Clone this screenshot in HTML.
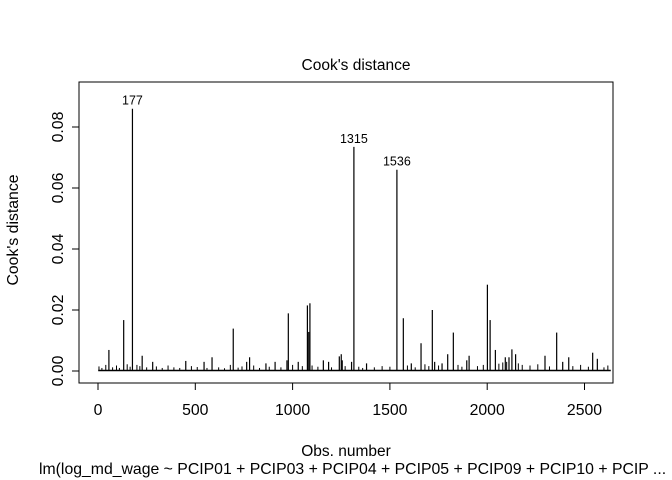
<!DOCTYPE html>
<html><head><meta charset="utf-8"><style>
body{margin:0;background:#fff;}
svg{display:block;font-family:"Liberation Sans",sans-serif;}
</style></head><body>
<svg id="chart" width="672" height="480">
<text x="356" y="70" font-size="15.5" text-anchor="middle">Cook's distance</text>
<text x="346" y="456" font-size="15.5" text-anchor="middle">Obs. number</text>
<text x="39" y="474" font-size="15.8">lm(log_md_wage ~ PCIP01 + PCIP03 + PCIP04 + PCIP05 + PCIP09 + PCIP10 + PCIP ...</text>
<text transform="translate(18,230) rotate(-90)" font-size="15.8" text-anchor="middle">Cook's distance</text>
<rect x="79" y="82" width="534" height="301" fill="none" stroke="#000"/>
<g id="marks"></g><g id="axes"></g>
</svg>
<script>
const obsIds=[177,1315,1536,2001,1089,1076,1718,978,1569,2015,132,695,1083,1826,2357,1660,2127,56,2042,2542,1250,1797,2146,1907,227,2297,1240,586,779,2093,2112,2419,2566,1158,971,1895,1255,451,545,281,764,910,1029,1185,1303,1730,863,1380,1610,1768,2388];
const cookVals=[0.086,0.0735,0.066,0.0283,0.0222,0.0215,0.02,0.0189,0.0173,0.0167,0.0167,0.0139,0.0128,0.0126,0.0126,0.0091,0.0071,0.0069,0.0069,0.006,0.0055,0.0055,0.0055,0.005,0.005,0.005,0.0048,0.0045,0.0045,0.0045,0.0045,0.0045,0.004,0.0035,0.0035,0.0035,0.0035,0.0033,0.003,0.003,0.003,0.003,0.003,0.003,0.003,0.003,0.0025,0.0025,0.0025,0.0025,0.003];
const smallIds=[5,20,40,75,95,110,150,165,200,215,250,300,330,360,390,420,480,510,560,620,650,680,720,740,800,830,880,940,1000,1050,1100,1130,1200,1270,1340,1360,1420,1460,1500,1590,1630,1680,1700,1750,1850,1870,1950,1980,2060,2080,2100,2160,2180,2220,2260,2320,2440,2480,2520,2600,2620];
const smallVals=[0.0015,0.001,0.002,0.0012,0.0018,0.001,0.0022,0.0014,0.002,0.0016,0.0012,0.0015,0.001,0.0018,0.0012,0.001,0.0016,0.0013,0.001,0.0012,0.0009,0.002,0.0011,0.0015,0.0018,0.001,0.0014,0.0012,0.002,0.0016,0.0018,0.0014,0.0012,0.0016,0.0014,0.001,0.0012,0.0016,0.0014,0.0018,0.0012,0.0022,0.0016,0.0018,0.002,0.0014,0.0016,0.002,0.0024,0.0028,0.003,0.0025,0.002,0.0018,0.0022,0.0015,0.0016,0.002,0.0014,0.0012,0.0018];
const labelIds=[177,1315,1536];
const xTicks=[0,500,1000,1500,2000,2500];
const yTicks=[0,0.02,0.04,0.06,0.08];
const yTickLabels=["0.00","0.02","0.04","0.06","0.08"];
const nObs=2635;

const NS="http://www.w3.org/2000/svg";
const X=v=>98+v*0.1946;
const Y=v=>371-v*3050;
const marks=document.getElementById('marks'),axes=document.getElementById('axes');
function mk(tag,attrs,parent){const e=document.createElementNS(NS,tag);for(const k in attrs)e.setAttribute(k,attrs[k]);parent.appendChild(e);return e;}
const base=mk('line',{x1:X(1),x2:X(nObs),y1:Y(0)-0.5,y2:Y(0)-0.5,stroke:'#000','stroke-width':1.6},marks);


smallIds.forEach((id,i)=>{const l=mk('line',{x1:X(id),x2:X(id),y1:Y(0),y2:Y(smallVals[i]),stroke:'#000','stroke-width':1},marks);

});
obsIds.forEach((id,i)=>{const l=mk('line',{x1:X(id),x2:X(id),y1:Y(0),y2:Y(cookVals[i]),stroke:'#000','stroke-width':1.2},marks);


if(labelIds.includes(id)){const t=mk('text',{x:X(id),y:Y(cookVals[i])-4,'font-size':12.5,'text-anchor':'middle'},marks);t.textContent=id;

}});
mk('line',{x1:X(xTicks[0]),x2:X(xTicks[xTicks.length-1]),y1:383,y2:383,stroke:'#000'},axes);
xTicks.forEach(v=>{mk('line',{x1:X(v),x2:X(v),y1:383,y2:390,stroke:'#000'},axes);
const t=mk('text',{x:X(v),y:415,'font-size':15.8,'text-anchor':'middle'},axes);t.textContent=v;

});
mk('line',{x1:79,x2:79,y1:Y(yTicks[0]),y2:Y(yTicks[yTicks.length-1]),stroke:'#000'},axes);
yTicks.forEach((v,i)=>{mk('line',{x1:72,x2:79,y1:Y(v),y2:Y(v),stroke:'#000'},axes);
const t=mk('text',{transform:`translate(63,${Y(v)}) rotate(-90)`,'font-size':15.8,'text-anchor':'middle'},axes);t.textContent=yTickLabels[i];

});
</script>
</body></html>
